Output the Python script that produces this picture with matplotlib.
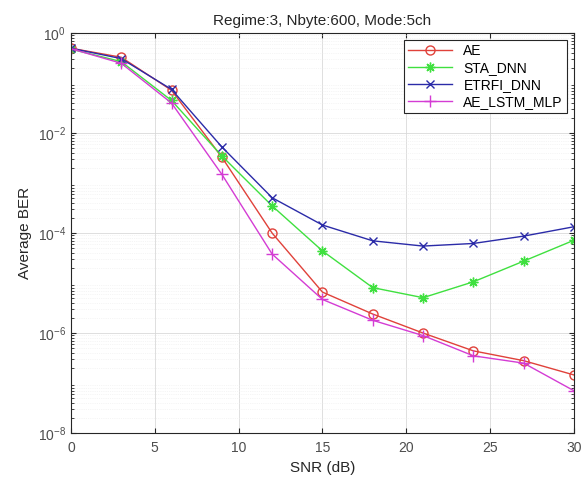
import matplotlib
matplotlib.use("Agg")
import matplotlib.pyplot as plt
from matplotlib.ticker import LogLocator, NullFormatter

plt.rcParams["font.family"] = ["Liberation Sans", "DejaVu Sans"]

snr = [0, 3, 6, 9, 12, 15, 18, 21, 24, 27, 30]

ber_ae = [0.5, 0.33, 0.072, 3.3e-3, 1.0e-4, 6.6e-6, 2.4e-6, 1.0e-6, 4.4e-7, 2.8e-7, 1.45e-7]
ber_sta_dnn = [0.48, 0.27, 0.045, 3.5e-3, 3.5e-4, 4.4e-5, 8.1e-6, 5.1e-6, 1.06e-5, 2.75e-5, 7.2e-5]
ber_etrfi_dnn = [0.5, 0.31, 0.075, 5.3e-3, 5.1e-4, 1.45e-4, 7.0e-5, 5.5e-5, 6.2e-5, 8.7e-5, 1.34e-4]
ber_ae_lstm_mlp = [0.49, 0.25, 0.04, 1.5e-3, 3.8e-5, 4.7e-6, 1.8e-6, 8.9e-7, 3.5e-7, 2.5e-7, 7.0e-8]

fig = plt.figure(figsize=(5.86, 4.88), dpi=100)
ax = fig.add_axes([0.121, 0.1127, 0.8585, 0.8193])

asterisk = (8, 2, 0)
ax.semilogy(snr, ber_ae, "-o", color="#e0413a", mfc="none", ms=6.5, lw=1.0, label="AE")
ax.semilogy(snr, ber_sta_dnn, "-", marker=asterisk, color="#3fe03f", ms=7, lw=1.0, label="STA_DNN")
ax.semilogy(snr, ber_etrfi_dnn, "-x", color="#2b2ba8", ms=5.5, lw=1.0, label="ETRFI_DNN")
ax.semilogy(snr, ber_ae_lstm_mlp, "-+", color="#d43cd4", ms=8, lw=1.0, label="AE_LSTM_MLP")

ax.set_xlim(0, 30)
ax.set_ylim(1e-8, 1)
ax.set_yticks([1e-8, 1e-6, 1e-4, 1e-2, 1])
ax.yaxis.set_minor_locator(LogLocator(base=10, subs=range(2, 10), numticks=20))
ax.yaxis.set_minor_formatter(NullFormatter())

ax.grid(True, which="major", color="#d9d9d9", lw=0.6)
ax.grid(True, which="minor", color="#ececec", lw=0.5, ls=":")
ax.set_axisbelow(True)
ax.tick_params(which="both", direction="in", top=True, right=True, labelsize=10,
               colors="#262626", labelcolor="#4d4d4d")
ax.tick_params(axis="x", pad=6)
for s in ax.spines.values():
    s.set_color("#262626")

ax.set_xlabel("SNR (dB)", fontsize=11, color="#262626")
ax.set_ylabel("Average BER", fontsize=11, color="#262626")
ax.set_title("Regime:3, Nbyte:600, Mode:5ch", fontsize=11, color="#262626", pad=6)

leg = ax.legend(loc="upper right", fontsize=10, fancybox=False, framealpha=1,
                edgecolor="#262626", handlelength=3.2, borderpad=0.3, labelspacing=0.2)
leg.get_frame().set_linewidth(0.8)

plt.savefig("out.png", dpi=100)
